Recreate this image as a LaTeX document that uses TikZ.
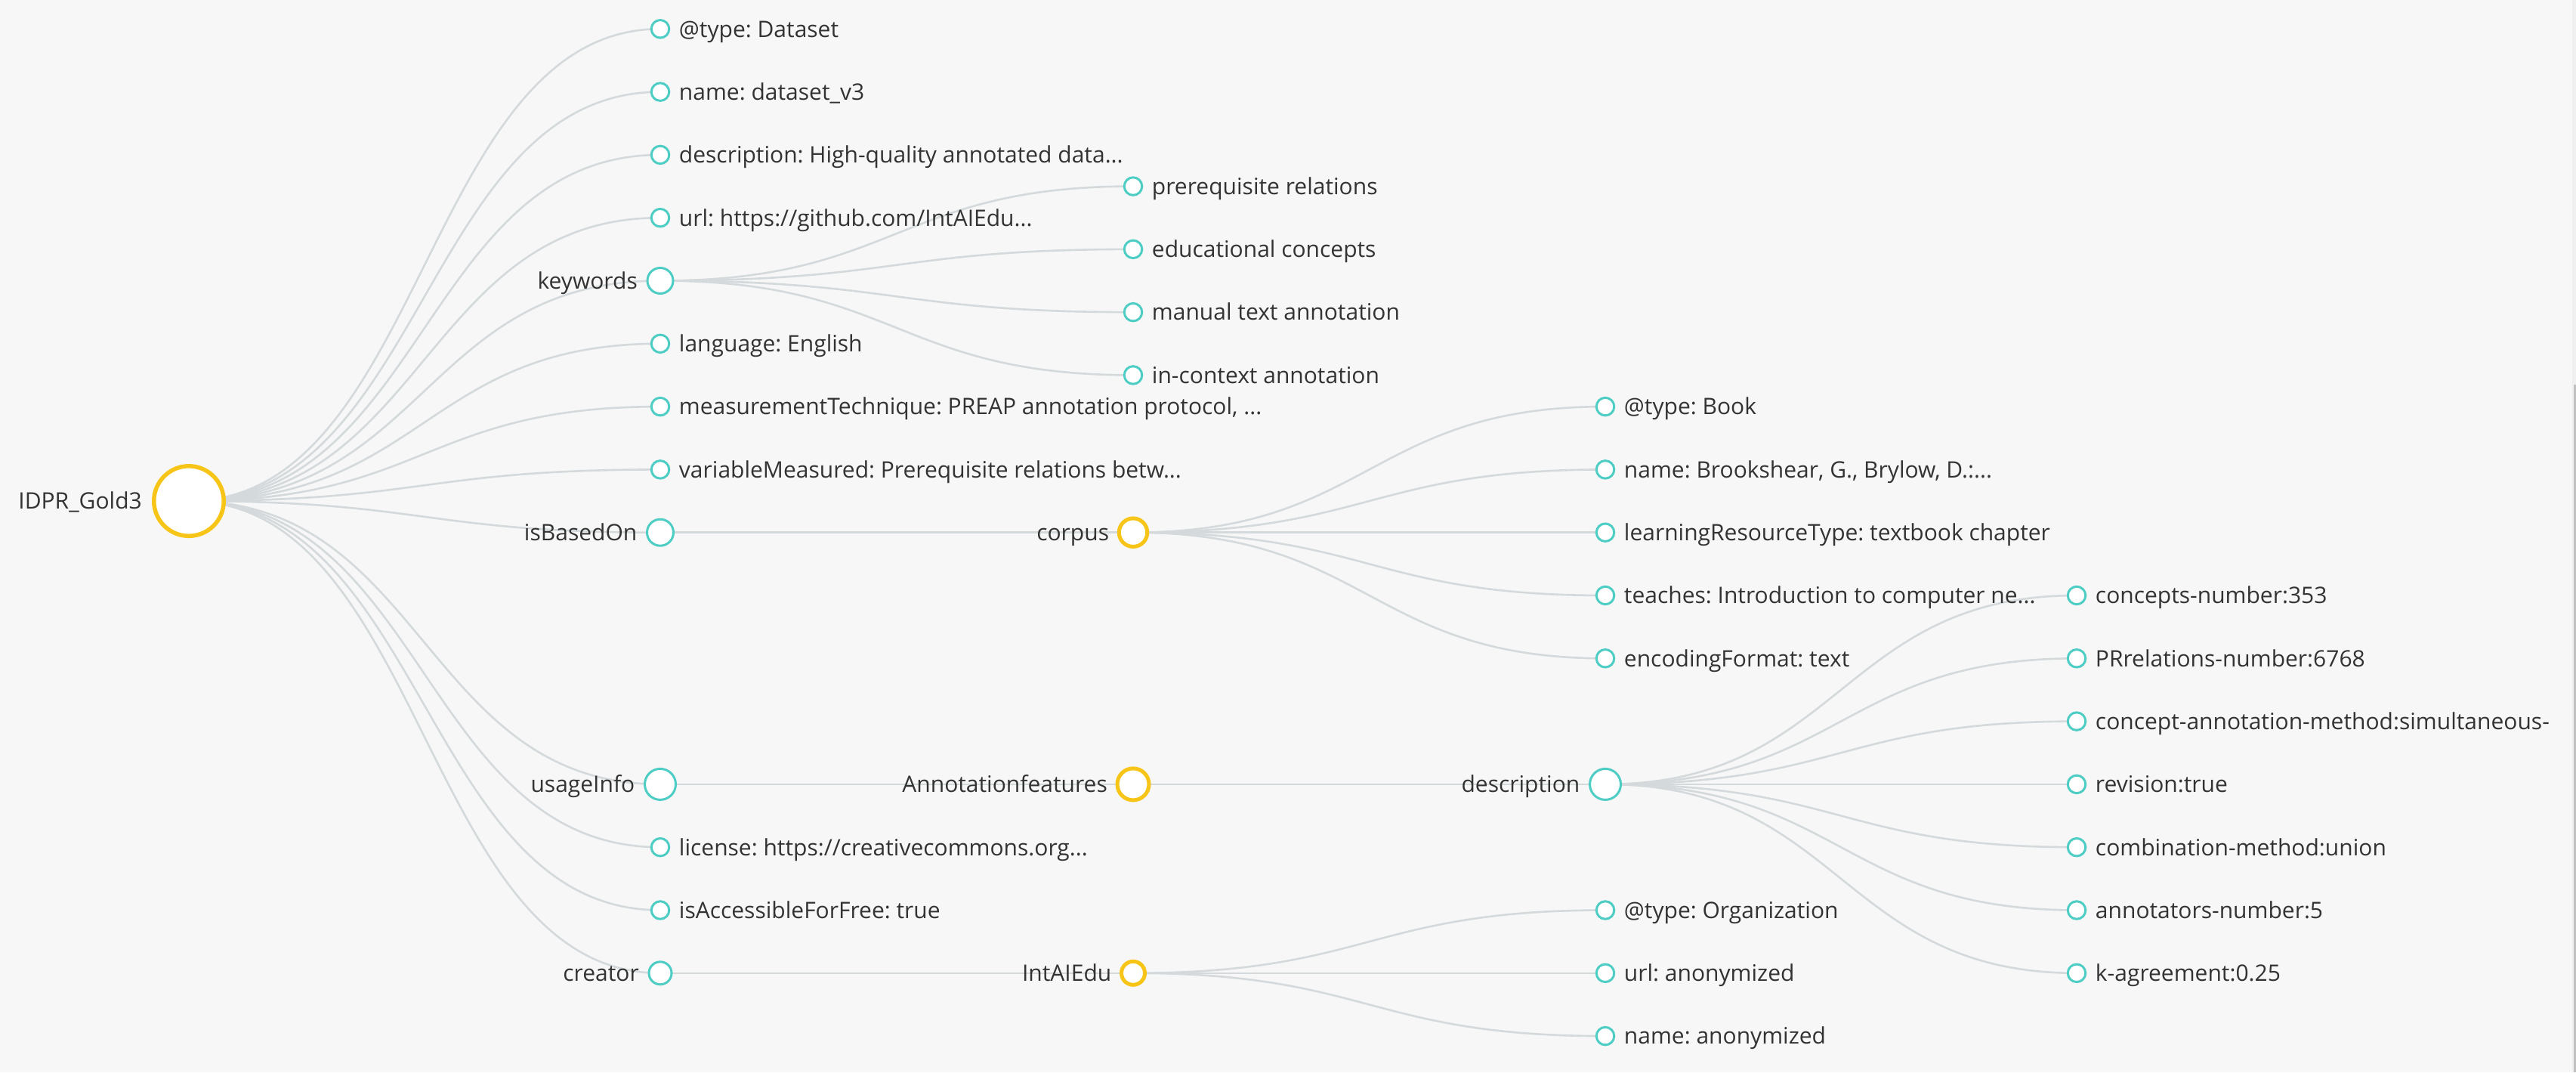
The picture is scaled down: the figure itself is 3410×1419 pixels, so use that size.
\documentclass[tikz,border=0pt]{standalone}
\usepackage{fontspec}
\setmainfont{Open Sans}
\usetikzlibrary{calc}
\frenchspacing
\definecolor{bgc}{RGB}{247,247,247}
\definecolor{linkc}{RGB}{212,217,220}
\definecolor{tealc}{RGB}{78,205,196}
\definecolor{goldc}{RGB}{246,197,24}
\definecolor{txtc}{RGB}{51,51,51}
\definecolor{trackc}{RGB}{240,240,240}
\definecolor{thumbc}{RGB}{193,193,193}
\pgfdeclarelayer{bglayer}
\pgfdeclarelayer{linklayer}
\pgfsetlayers{bglayer,linklayer,main}
\tikzset{
  leaf/.style={circle, draw=tealc, fill=white, line width=3pt, minimum size=23.5pt, inner sep=0pt, outer sep=0pt},
  tparent/.style={circle, draw=tealc, fill=white, line width=3pt, minimum size=#1, inner sep=0pt, outer sep=0pt},
  gparent/.style={circle, draw=goldc, fill=white, line width=5pt, minimum size=#1, inner sep=0pt, outer sep=0pt},
  lab/.style={text=txtc, font=\fontsize{30}{36}\selectfont\frenchspacing, inner sep=0pt, yshift=-10.8pt},
  rlab/.style={lab, anchor=base west, xshift=13pt},
  llab/.style={lab, anchor=base east, xshift=-13pt},
  link/.style={draw=linkc, line width=2.6pt, to path={.. controls +(312pt,0) and +(-312pt,0) .. (\tikztotarget)}},
}
\begin{document}
\begin{tikzpicture}[x=1pt,y=-1pt]
\useasboundingbox (0,0) rectangle (3410,1419);
\begin{pgfonlayer}{bglayer}
  \fill[bgc] (0,0) rectangle (3410,1419);
  \fill[trackc] (3405,0) rectangle (3410,1419);
  \fill[thumbc] (3407,509) rectangle (3410,1419);
\end{pgfonlayer}

% root
\node[circle, draw=goldc, fill=white, line width=5.5pt, minimum size=92.5pt, inner sep=0pt] (root) at (250,663.05) {};
\node[llab] (rootl) at (root.west) {IDPR\_Gold3};

% level 1
\node[leaf] (a0) at (874,38.3) {};
\node[rlab] (a0l) at (a0.east) {@type: Dataset};
\node[leaf] (a1) at (874,121.6) {};
\node[rlab] (a1l) at (a1.east) {name: dataset\_v3};
\node[leaf] (a2) at (874,204.9) {};
\node[rlab] (a2l) at (a2.east) {description: High-quality annotated data...};
\node[leaf] (a3) at (874,288.2) {};
\node[rlab] (a3l) at (a3.east) {url: https://github.com/IntAIEdu...};
\node[tparent=34pt] (a4) at (874,371.5) {};
\node[llab] (a4l) at (a4.west) {keywords};
\node[leaf] (a5) at (874,454.8) {};
\node[rlab] (a5l) at (a5.east) {language: English};
\node[leaf] (a6) at (874,538.1) {};
\node[rlab] (a6l) at (a6.east) {measurementTechnique: PREAP annotation protocol, ...};
\node[leaf] (a7) at (874,621.4) {};
\node[rlab] (a7l) at (a7.east) {variableMeasured: Prerequisite relations betw...};
\node[tparent=35pt] (a8) at (874,704.7) {};
\node[llab] (a8l) at (a8.west) {isBasedOn};
\node[tparent=41pt] (a12) at (874,1037.9) {};
\node[llab] (a12l) at (a12.west) {usageInfo};
\node[leaf] (a13) at (874,1121.2) {};
\node[rlab] (a13l) at (a13.east) {license: https://creativecommons.org...};
\node[leaf] (a14) at (874,1204.5) {};
\node[rlab] (a14l) at (a14.east) {isAccessibleForFree: true};
\node[tparent=30pt] (a15) at (874,1287.8) {};
\node[llab] (a15l) at (a15.west) {creator};

% keywords children
\node[leaf] (k1) at (1500,246.55) {};
\node[rlab] (k1l) at (k1.east) {prerequisite relations};
\node[leaf] (k2) at (1500,329.85) {};
\node[rlab] (k2l) at (k2.east) {educational concepts};
\node[leaf] (k3) at (1500,413.15) {};
\node[rlab] (k3l) at (k3.east) {manual text annotation};
\node[leaf] (k4) at (1500,496.45) {};
\node[rlab] (k4l) at (k4.east) {in-context annotation};

% corpus
\node[gparent=37.5pt] (corpus) at (1500,704.7) {};
\node[llab] (corpusl) at (corpus.west) {corpus};
\node[leaf] (c1) at (2125,538.1) {};
\node[rlab] (c1l) at (c1.east) {@type: Book};
\node[leaf] (c2) at (2125,621.4) {};
\node[rlab] (c2l) at (c2.east) {name: Brookshear, G., Brylow, D.:...};
\node[leaf] (c3) at (2125,704.7) {};
\node[rlab] (c3l) at (c3.east) {learningResourceType: textbook chapter};
\node[leaf] (c4) at (2125,788.0) {};
\node[rlab] (c4l) at (c4.east) {teaches: Introduction to computer ne...};
\node[leaf] (c5) at (2125,871.3) {};
\node[rlab] (c5l) at (c5.east) {encodingFormat: text};

% annotation features
\node[gparent=42pt] (annot) at (1500,1037.9) {};
\node[llab] (annotl) at (annot.west) {Annotationfeatures};
\node[tparent=41pt] (desc) at (2125,1037.9) {};
\node[llab] (descl) at (desc.west) {description};
\node[leaf] (d1) at (2749,788.0) {};
\node[rlab] (d1l) at (d1.east) {concepts-number:353};
\node[leaf] (d2) at (2749,871.3) {};
\node[rlab] (d2l) at (d2.east) {PRrelations-number:6768};
\node[leaf] (d3) at (2749,954.6) {};
\node[rlab] (d3l) at (d3.east) {concept-annotation-method:simultaneous-};
\node[leaf] (d4) at (2749,1037.9) {};
\node[rlab] (d4l) at (d4.east) {revision:true};
\node[leaf] (d5) at (2749,1121.2) {};
\node[rlab] (d5l) at (d5.east) {combination-method:union};
\node[leaf] (d6) at (2749,1204.5) {};
\node[rlab] (d6l) at (d6.east) {annotators-number:5};
\node[leaf] (d7) at (2749,1287.8) {};
\node[rlab] (d7l) at (d7.east) {k-agreement:0.25};

% organisation
\node[gparent=31pt] (org) at (1500,1287.8) {};
\node[llab] (orgl) at (org.west) {IntAIEdu};
\node[leaf] (o1) at (2125,1204.5) {};
\node[rlab] (o1l) at (o1.east) {@type: Organization};
\node[leaf] (o2) at (2125,1287.8) {};
\node[rlab] (o2l) at (o2.east) {url: anonymized};
\node[leaf] (o3) at (2125,1371.1) {};
\node[rlab] (o3l) at (o3.east) {name: anonymized};

\begin{pgfonlayer}{linklayer}
  \foreach \c in {a0,a1,a2,a3,a4,a5,a6,a7,a8,a12,a13,a14,a15}
    \draw[link] (root.center) to (\c.center);
  \foreach \c in {k1,k2,k3,k4}
    \draw[link] (a4.center) to (\c.center);
  \draw[link] (a8.center) to (corpus.center);
  \foreach \c in {c1,c2,c3,c4,c5}
    \draw[link] (corpus.center) to (\c.center);
  \draw[link] (a12.center) to (annot.center);
  \draw[link] (annot.center) to (desc.center);
  \foreach \c in {d1,d2,d3,d4,d5,d6,d7}
    \draw[link] (desc.center) to (\c.center);
  \draw[link] (a15.center) to (org.center);
  \foreach \c in {o1,o2,o3}
    \draw[link] (org.center) to (\c.center);
\end{pgfonlayer}
\end{tikzpicture}
\end{document}
